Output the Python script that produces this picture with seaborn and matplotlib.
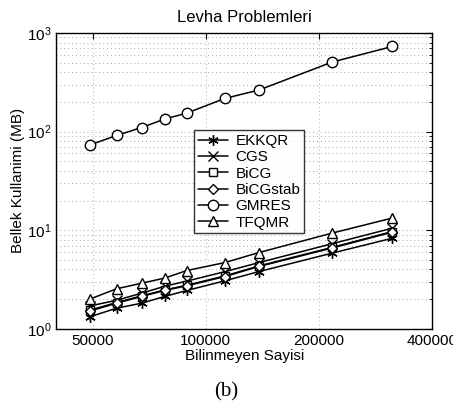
import matplotlib
matplotlib.use('Agg')
import matplotlib.pyplot as plt
import matplotlib.ticker as mticker
import numpy as np
import pandas as pd
import seaborn as sb

# problem sizes (unknowns)
unknowns = [49300, 57900, 67500, 77700, 89000, 112400, 138500, 216800, 313600]

# memory usage (MB) per solver
ekkqr    = [1.33, 1.62, 1.82, 2.13, 2.45, 3.07, 3.81, 5.86, 8.3]
cgs      = [1.71, 1.95, 2.3, 2.7, 3.05, 3.8, 4.7, 7.3, 10.5]
bicg     = [1.55, 1.85, 2.16, 2.48, 2.77, 3.44, 4.35, 6.7, 9.7]
bicgstab = [1.52, 1.82, 2.13, 2.45, 2.73, 3.39, 4.29, 6.6, 9.57]
gmres    = [73.5, 91.3, 110, 134, 154, 217, 264, 507, 730]
tfqmr    = [2.01, 2.55, 2.9, 3.27, 3.9, 4.7, 5.94, 9.35, 13.3]

names   = ['EKKQR', 'CGS', 'BiCG', 'BiCGstab', 'GMRES', 'TFQMR']
markers = [(6, 2, 0), 'x', 's', 'D', 'o', '^']
msizes  = [7.5, 6.5, 6, 5.5, 7.5, 7.5]


def main():
	sb.set_style('white')
	plt.rcParams['font.family'] = ['Liberation Sans', 'DejaVu Sans']
	plt.rcParams['text.color'] = 'k'
	plt.rcParams['axes.labelcolor'] = 'k'

	df = pd.DataFrame({'x': unknowns, 'EKKQR': ekkqr, 'CGS': cgs, 'BiCG': bicg,
		'BiCGstab': bicgstab, 'GMRES': gmres, 'TFQMR': tfqmr})

	fig = plt.figure(figsize=(4.53, 4.07), dpi=100)
	ax = fig.add_axes([0.124, 0.192, 0.830, 0.727])

	for name, m, ms in zip(names, markers, msizes):
		sb.lineplot(data=df, x='x', y=name, ax=ax, color='k', lw=1.1,
			marker=m, markersize=ms, markerfacecolor='white',
			markeredgecolor='k', markeredgewidth=1.0, label=name)

	ax.set_xscale('log')
	ax.set_yscale('log')
	ax.set_xlim(40000, 400000)
	ax.set_ylim(1, 1000)

	ax.xaxis.set_major_locator(mticker.FixedLocator([50000, 100000, 200000, 400000]))
	ax.xaxis.set_major_formatter(mticker.FixedFormatter(['50000', '100000', '200000', '400000']))
	ax.xaxis.set_minor_locator(mticker.NullLocator())
	ax.yaxis.set_major_locator(mticker.LogLocator(base=10))
	ax.yaxis.set_minor_locator(mticker.LogLocator(base=10, subs=np.arange(2, 10)))
	ax.yaxis.set_minor_formatter(mticker.NullFormatter())

	grid_kw = dict(ls=(0, (1, 3)), color='#aaaaaa', lw=0.7)
	ax.grid(True, which='major', axis='both', **grid_kw)
	ax.grid(True, which='minor', axis='y', **grid_kw)
	ax.tick_params(which='both', direction='in', top=True, right=True,
		labelsize=11, colors='k', length=4)
	ax.tick_params(which='minor', length=2)
	for s in ax.spines.values():
		s.set_color('k')
		s.set_linewidth(1.0)

	ax.set_xlabel('Bilinmeyen Sayisi', fontsize=11, labelpad=1)
	ax.set_ylabel('Bellek Kullanimi (MB)', fontsize=11, labelpad=1)
	ax.set_title('Levha Problemleri', fontsize=12, pad=8)

	leg = ax.legend(loc='center', bbox_to_anchor=(0.513, 0.497), fontsize=11,
		frameon=True, fancybox=False, edgecolor='k', handlelength=2.0,
		borderpad=0.25, labelspacing=0.15, handletextpad=0.5)
	leg.get_frame().set_linewidth(1.0)

	fig.text(0.5, 0.037, '(b)', ha='center', va='center', fontsize=15,
		family='Liberation Serif')

	fig.savefig('out.png', dpi=100)


if __name__ == '__main__':
	main()
